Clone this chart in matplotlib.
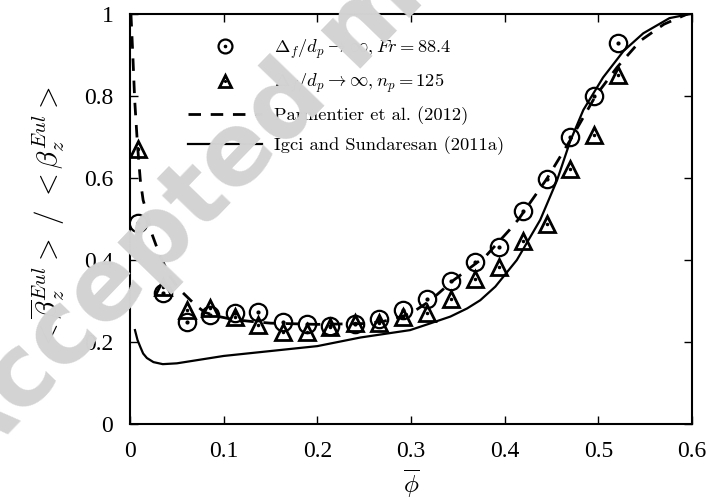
import matplotlib
matplotlib.use("Agg")
import matplotlib.pyplot as plt
from matplotlib.legend_handler import HandlerTuple

plt.rcParams['mathtext.fontset'] = 'cm'
plt.rcParams['font.family'] = ['Liberation Serif', 'DejaVu Serif']

# filtered drag ratio, Fr = 88.4
phi_fr = [0.0085, 0.035, 0.061, 0.085, 0.112, 0.137, 0.163, 0.189, 0.214, 0.24, 0.266,
          0.291, 0.317, 0.343, 0.368, 0.394, 0.42, 0.445, 0.47, 0.495, 0.521]
beta_fr = [0.49, 0.32, 0.25, 0.266, 0.27, 0.273, 0.25, 0.245, 0.24, 0.245, 0.256,
           0.278, 0.305, 0.349, 0.395, 0.432, 0.52, 0.598, 0.70, 0.80, 0.93]

# filtered drag ratio, n_p = 125
phi_np = [0.0085, 0.035, 0.061, 0.085, 0.112, 0.137, 0.163, 0.189, 0.214, 0.24, 0.266,
          0.291, 0.317, 0.343, 0.368, 0.394, 0.42, 0.445, 0.47, 0.495, 0.521]
beta_np = [0.67, 0.334, 0.278, 0.283, 0.261, 0.241, 0.224, 0.224, 0.236, 0.246, 0.246,
           0.261, 0.27, 0.305, 0.354, 0.383, 0.446, 0.488, 0.622, 0.705, 0.851]

# Parmentier et al. (2012)
phi_parm = [0.001, 0.003, 0.005, 0.008, 0.011, 0.014, 0.018, 0.023, 0.032, 0.043, 0.052, 0.061,
            0.07, 0.08, 0.095, 0.11, 0.13, 0.15, 0.2, 0.25, 0.27, 0.29, 0.3, 0.32, 0.345,
            0.38, 0.405, 0.415, 0.445, 0.472, 0.497, 0.52, 0.545, 0.57, 0.595]
beta_parm = [1.0, 0.9, 0.79, 0.68, 0.595, 0.546, 0.515, 0.466, 0.41, 0.359, 0.33, 0.31,
             0.29, 0.272, 0.262, 0.255, 0.25, 0.246, 0.243, 0.245, 0.25, 0.262, 0.27, 0.3, 0.35,
             0.41, 0.473, 0.5, 0.598, 0.70, 0.80, 0.87, 0.935, 0.975, 1.0]

# Igci and Sundaresan (2011a)
phi_igci = [0.0053, 0.008, 0.011, 0.014, 0.018, 0.025, 0.035, 0.05, 0.1, 0.2, 0.246, 0.299,
            0.32, 0.342, 0.36, 0.374, 0.39, 0.413, 0.438, 0.456, 0.47, 0.484, 0.505, 0.527,
            0.548, 0.576, 0.598]
beta_igci = [0.229, 0.205, 0.188, 0.172, 0.161, 0.151, 0.146, 0.148, 0.166, 0.19, 0.211, 0.229,
             0.245, 0.262, 0.282, 0.302, 0.335, 0.40, 0.498, 0.595, 0.69, 0.766, 0.845, 0.91,
             0.953, 0.99, 1.0]

fig = plt.figure(figsize=(7.12, 5.04), dpi=100)
# watermark of the source page
fig.text(-0.045, 0.0575, "Accepted manuscript", fontsize=72, color="#d3d3d3",
         family="DejaVu Sans", weight="bold", rotation=46, rotation_mode="anchor",
         ha="left", va="baseline", zorder=0)
ax = fig.add_axes([0.1826, 0.1587, 0.7893, 0.8135])
ax.patch.set_alpha(0)

l_dash, = ax.plot(phi_parm, beta_parm, color="black", lw=2, ls=(0, (4.5, 3.5)))
l_solid, = ax.plot(phi_igci, beta_igci, color="black", lw=1.6)

c1, = ax.plot(phi_fr, beta_fr, ls="none", marker="o", ms=12.5, mfc="none", mec="black", mew=1.6)
c2, = ax.plot(phi_fr, beta_fr, ls="none", marker="o", ms=2, mfc="black", mec="black")
t1, = ax.plot(phi_np, beta_np, ls="none", marker="^", ms=11, mfc="none", mec="black", mew=2)
t2, = ax.plot(phi_np, beta_np, ls="none", marker="o", ms=1.5, mfc="black", mec="black")

ax.set_xlim(0, 0.6)
ax.set_ylim(0, 1)
ax.set_xticks([0, 0.1, 0.2, 0.3, 0.4, 0.5, 0.6])
ax.set_xticklabels(["0", "0.1", "0.2", "0.3", "0.4", "0.5", "0.6"])
ax.set_yticks([0, 0.2, 0.4, 0.6, 0.8, 1])
ax.set_yticklabels(["0", "0.2", "0.4", "0.6", "0.8", "1"])
ax.tick_params(direction="in", top=True, right=True, length=6, width=1, labelsize=17, pad=12)
for s in ax.spines.values():
    s.set_linewidth(1.5)

ax.set_xlabel(r"$\overline{\phi}$", fontsize=18, labelpad=4)
ax.set_ylabel(r"$<\overline{\beta}_z^{Eul}>\ /\ <\beta_z^{Eul}>$", fontsize=21, labelpad=12)

leg = ax.legend([(c1, c2), (t1, t2), l_dash, l_solid],
                [r"$\Delta_f/d_p \rightarrow \infty, Fr=88.4$",
                 r"$\Delta_f/d_p \rightarrow \infty, n_p=125$",
                 "Parmentier et al. (2012)", "Igci and Sundaresan (2011a)"],
                handler_map={tuple: HandlerTuple(ndivide=1, pad=0)},
                loc="upper left", bbox_to_anchor=(0.087, 0.965), frameon=False,
                handlelength=4.0, handletextpad=0.65, labelspacing=0.6, borderpad=0,
                markerscale=0.8, prop={"family": "cmr10", "size": 13.3})

fig.savefig("out.png", dpi=100)
